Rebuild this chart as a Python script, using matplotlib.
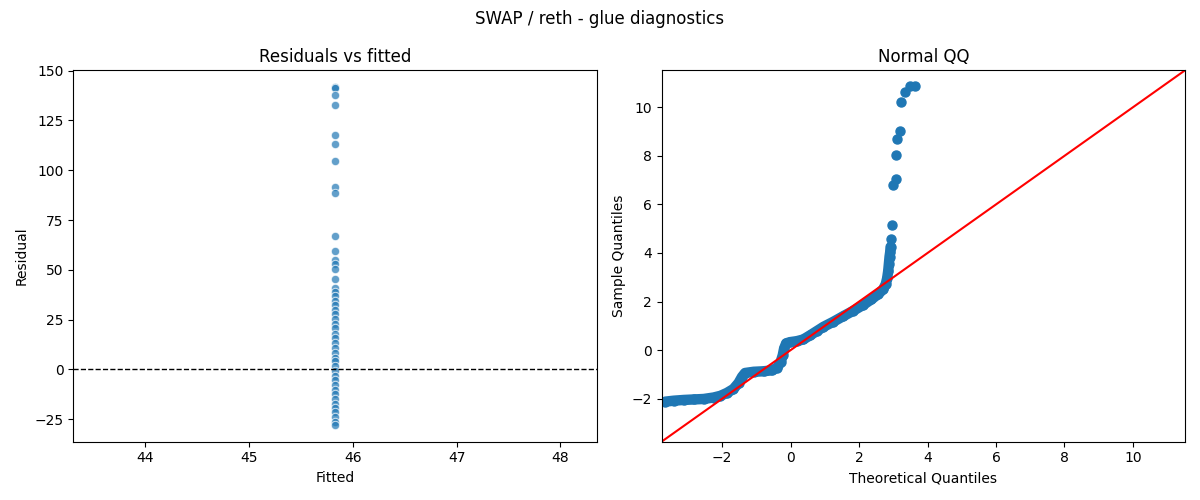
import numpy as np
import matplotlib
matplotlib.use("Agg")
import matplotlib.pyplot as plt

# Residuals vs fitted: every model prediction is the same constant
fitted_value = 45.83
residuals = [141.7, 141.3, 137.8, 132.8, 117.8, 113.3, 104.7, 91.7, 88.7,
             67.2, 59.6, 54.8, 53.1, 50.3, 45.6, 41.1, 39.1, 36.9, 34.4,
             32.4, 29.7, 27.7, 25.2, 22.7, 20.7, 18.0, 16.0, 13.5, 11.0,
             8.5, 6.0, 4.0, 1.8, -0.7, -3.2, -5.4, -7.7, -10.4, -12.4,
             -14.9, -17.4, -19.4, -21.6, -24.1, -26.2, -27.8]

# Normal QQ: dense body of the sample (read along the band)
qq_band_theo = [-3.66, -3.41, -3.12, -2.83, -2.54, -2.25, -2.05, -1.86, -1.67,
                -1.52, -1.42, -1.33, -1.08, -0.79, -0.55, -0.39, -0.29, -0.23,
                -0.19, -0.13, -0.02, 0.18, 0.37, 0.57, 0.76, 0.96, 1.25, 1.54,
                1.83, 2.12, 2.36, 2.56, 2.70, 2.78, 2.82, 2.85, 2.87, 2.89,
                2.91, 2.92]
qq_band_sample = [-2.12, -2.08, -2.05, -2.03, -2.01, -1.95, -1.88, -1.76, -1.60,
                  -1.35, -1.10, -0.94, -0.89, -0.87, -0.83, -0.72, -0.48, -0.21,
                  0.07, 0.28, 0.33, 0.37, 0.44, 0.61, 0.78, 0.96, 1.17, 1.40,
                  1.62, 1.86, 2.09, 2.31, 2.50, 2.72, 2.96, 3.25, 3.55, 3.85,
                  4.05, 4.25]
# upper tail, separate points
qq_tail_theo = [2.93, 2.975, 2.994, 3.072, 3.092, 3.121, 3.189, 3.218, 3.334, 3.480, 3.626]
qq_tail_sample = [4.56, 5.155, 6.804, 7.052, 8.027, 8.701, 9.031, 10.213, 10.611, 10.859, 10.887]
qq_lims = [-3.77, 11.52]

fig, (ax1, ax2) = plt.subplots(1, 2, figsize=(12, 5), dpi=100)
fig.suptitle("SWAP / reth - glue diagnostics")

# left panel
ax1.scatter(np.full(len(residuals), fitted_value), residuals, s=36, color="#1f77b4",
            alpha=0.7, edgecolor="white", linewidth=0.75)
ax1.axhline(0, color="black", linestyle="--", linewidth=1)
ax1.set_title("Residuals vs fitted")
ax1.set_xlabel("Fitted")
ax1.set_ylabel("Residual")

# right panel
ax2.plot(qq_band_theo, qq_band_sample, color="#1f77b4", linewidth=7.5,
         solid_capstyle="round", solid_joinstyle="round",
         marker="o", markersize=6.5)
ax2.plot(qq_tail_theo, qq_tail_sample, linestyle="none", marker="o",
         markersize=6.5, color="#1f77b4")
ax2.plot(qq_lims, qq_lims, color="red")
ax2.set_xlim(qq_lims)
ax2.set_ylim(qq_lims)
ax2.set_title("Normal QQ")
ax2.set_xlabel("Theoretical Quantiles")
ax2.set_ylabel("Sample Quantiles")

plt.tight_layout()
plt.savefig("out.png")
